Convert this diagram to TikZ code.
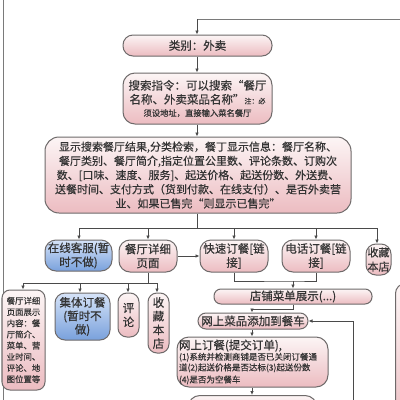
\documentclass[tikz,border=0pt]{standalone}
\usepackage{fontspec}
\setmainfont{Noto Sans CJK SC}[FakeBold=0.35]
\usetikzlibrary{arrows.meta}
\definecolor{bordc}{HTML}{6E6A6A}
\definecolor{linec}{HTML}{4A4A4A}
\definecolor{framec}{HTML}{7A7A7A}
\definecolor{ptop}{HTML}{FCF5F5}
\definecolor{pbot}{HTML}{ECBCC1}
\definecolor{btop}{HTML}{D6E3F8}
\definecolor{bbot}{HTML}{79A1DC}
\definecolor{txtc}{HTML}{333333}
\newcommand{\myfA}{\fontsize{11.5}{14}\selectfont}
\newcommand{\myfB}{\fontsize{11}{14.2}\selectfont}
\newcommand{\myfC}{\fontsize{8.4}{11.2}\selectfont}
\newcommand{\myfD}{\fontsize{7}{8}\selectfont}
\tikzset{
  pbox/.style={draw=bordc,line width=1pt,top color=ptop,bottom color=pbot,
    inner sep=0pt,align=center,text=txtc},
  bbox/.style={pbox,top color=btop,bottom color=bbot},
  conn/.style={draw=linec,line width=0.8pt},
  arr/.style={conn,-{Latex[length=4pt,width=3.6pt]}},
  frame/.style={draw=framec,line width=0.9pt}
}
\begin{document}
\begin{tikzpicture}[x=1pt,y=-1pt]
\useasboundingbox (0,0) rectangle (400,400);
\fill[white] (0,0) rectangle (400,400);
\clip (0,0) rectangle (400,400);

% frame lines
\coordinate (fl1) at (3,0);
\coordinate (fl2) at (3,400);
\draw[frame] (fl1) -- (fl2);

% main column
\node[pbox,minimum width=149,minimum height=21,rounded corners=10,font=\myfA] (b1) at (197.5,45.5) {类别：外卖};
\node[pbox,minimum width=149,minimum height=51,rounded corners=12,font=\myfA] (b2) at (197.5,98.5)
  {搜索指令：可以搜索“餐厅\\名称、外卖菜品名称”{\myfD 注：必}\\[-1.5pt]{\fontsize{8.3}{10}\selectfont 须设地址，直接输入菜名餐厅}};
\node[pbox,minimum width=306,minimum height=76,rounded corners=14,font=\myfB] (b3) at (198,175)
  {显示搜索餐厅结果,分类检索，餐丁显示信息：餐厅名称、\\餐厅类别、餐厅简介,指定位置公里数、评论条数、订购次\\数、[口味、速度、服务]、起送价格、起送份数、外送费、\\送餐时间、支付方式（货到付款、在线支付）、是否外卖营\\业、如果已售完“则显示已售完”};

\coordinate (top0) at (197,19);
\coordinate (topR) at (400,19);
\draw[conn,draw=framec] (topR) -- (top0);
\draw[arr] (top0) -- (top0 |- b1.north);
\draw[arr] (top0 |- b1.south) -- (top0 |- b2.north);
\draw[arr] (top0 |- b2.south) -- (top0 |- b3.north);

% row 2
\node[bbox,minimum width=67,minimum height=31,rounded corners=11,font=\myfA] (r1) at (78.5,255.5) {在线客服(暂\\时不做)};
\node[pbox,minimum width=58,minimum height=32,rounded corners=11,font=\myfA] (r2) at (148,256) {餐厅详细\\页面};
\node[pbox,minimum width=68,minimum height=32,rounded corners=11,font=\myfA] (r3) at (234,256) {快速订餐[链\\接]};
\node[pbox,minimum width=68,minimum height=32,rounded corners=11,font=\myfA] (r4) at (316,256) {电话订餐[链\\接]};
\node[pbox,minimum width=25,minimum height=31,rounded corners=10,font=\myfB] (r5) at (378.5,259.5) {收藏\\本店};

\coordinate (busM) at (197,228);
\coordinate (busL) at (79,228);
\coordinate (busR) at (377,228);
\draw[conn] (top0 |- b3.south) -- (busM);
\draw[conn] (busL) -- (busR);
\draw[arr] (busL) -- (busL |- r1.north);
\draw[arr] (r2.north |- busL) -- (r2.north);
\draw[arr] (r3.north |- busL) -- (r3.north);
\draw[arr] (r4.north |- busL) -- (r4.north);
\draw[arr] (busR) -- (busR |- r5.north);
\draw[arr] (r2.east) -- (r3.west);

% row 3 (under restaurant detail)
\node[pbox,minimum width=43,minimum height=100,rounded corners=8,font=\myfC] (d1) at (23.5,340)
  {餐厅详细\\页面展示\\内容：餐\\厅简介、\\菜单、营\\业时间、\\评论、地\\图位置等};
\node[bbox,minimum width=55,minimum height=47,rounded corners=10,font=\fontsize{11.5}{13.5}\selectfont] (d2) at (82.5,316.5) {集体订餐\\(暂时不\\做)};
\node[pbox,minimum width=21,minimum height=44,rounded corners=9,font=\fontsize{11.5}{14}\selectfont] (d3) at (128.5,315) {评\\论};
\node[pbox,minimum width=21,minimum height=60,rounded corners=9,font=\fontsize{11.5}{13.7}\selectfont] (d4) at (158.5,323) {收\\藏\\本\\店};

\coordinate (b2L) at (23,283);
\coordinate (b2R) at (157,283);
\coordinate (b2a) at (80,283);
\coordinate (b2b) at (128,283);
\draw[conn] (r2.south) -- (r2.south |- b2L);
\draw[conn] (b2L) -- (b2R);
\draw[arr] (b2L) -- (b2L |- d1.north);
\draw[arr] (b2a) -- (b2a |- d2.north);
\draw[arr] (b2b) -- (b2b |- d3.north);
\draw[arr] (b2R) -- (b2R |- d4.north);

% order column
\node[pbox,minimum width=158,minimum height=15,rounded corners=7,font=\myfA] (s1) at (293,296.5) {店铺菜单展示(...)};
\node[pbox,minimum width=110,minimum height=16,rounded corners=8,font=\myfA] (s2) at (253,321) {网上菜品添加到餐车};
\node[pbox,minimum width=151,minimum height=50,rounded corners=12,text width=147,align=left,font=\fontsize{8.5}{10.6}\selectfont] (s3) at (252.5,362)
  {{\fontsize{11.5}{13}\selectfont 网上订餐(提交订单),}\\(1)系统并检测商铺是否已关闭订餐通\\道(2)起送价格是否达标(3)起送份数\\[1.5pt](4)是否为空餐车};
\node[pbox,minimum width=129,minimum height=30,rounded corners=12,anchor=north] (s4) at (252.5,395) {};
\node[pbox,minimum width=60,minimum height=150,rounded corners=10,anchor=north west] (rb) at (395,283) {};

\coordinate (m1) at (293,281);
\coordinate (m2) at (252,309);
\draw[conn] (r3.south) |- (m1) -| (r4.south);
\draw[arr] (m1) -- (m1 |- s1.north);
\draw[conn] (m1 |- s1.south) |- (m2);
\draw[arr] (m2) -- (m2 |- s2.north);
\draw[arr] (m2 |- s2.south) -- (m2 |- s3.north);
\draw[arr] (m2 |- s3.south) -- (m2 |- s4.north);

\coordinate (loopB) at (353,400);
\draw[arr] (loopB) |- (s2.east);
\end{tikzpicture}
\end{document}
